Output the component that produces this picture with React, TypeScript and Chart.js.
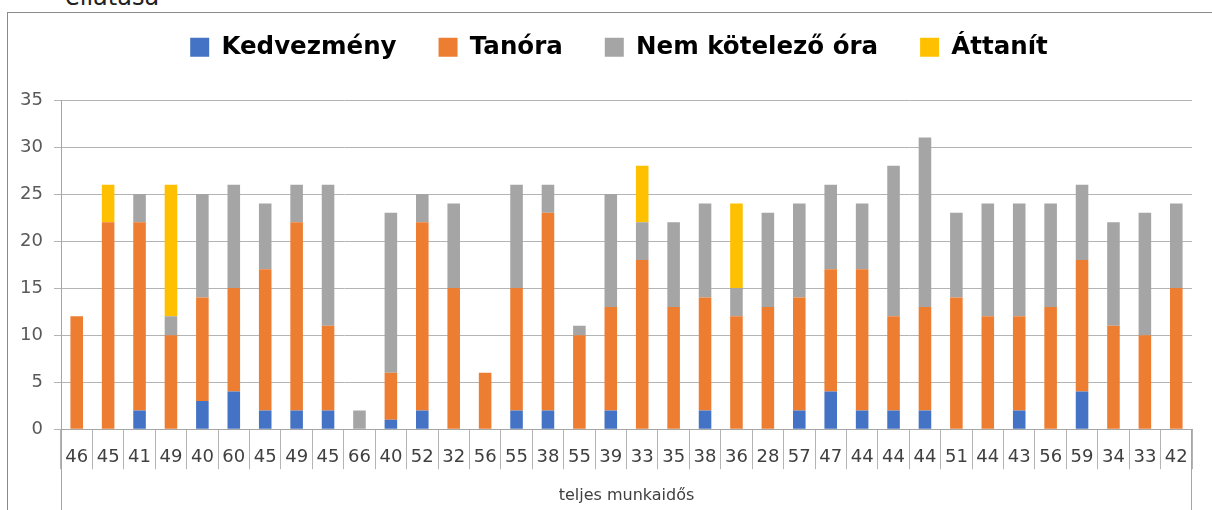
import React, { useEffect, useRef } from "react";
import { Chart, registerables } from "chart.js";

Chart.register(...registerables);

const categories = ["46","45","41","49","40","60","45","49","45","66","40","52","32","56","55","38","55","39","33","35","38","36","28","57","47","44","44","44","51","44","43","56","59","34","33","42"];
const kedvezmeny = [0,0,2,0,3,4,2,2,2,0,1,2,0,0,2,2,0,2,0,0,2,0,0,2,4,2,2,2,0,0,2,0,4,0,0,0];
const tanora = [12,22,20,10,11,11,15,20,9,0,5,20,15,6,13,21,10,11,18,13,12,12,13,12,13,15,10,11,14,12,10,13,14,11,10,15];
const nemKotelezo = [0,0,3,2,11,11,7,4,15,2,17,3,9,0,11,3,1,12,4,9,10,3,10,10,9,7,16,18,9,12,12,11,8,11,13,9];
const attanit = [0,4,0,14,0,0,0,0,0,0,0,0,0,0,0,0,0,0,6,0,0,9,0,0,0,0,0,0,0,0,0,0,0,0,0,0];
const seriesNames = ["Kedvezmény", "Tanóra", "Nem kötelező óra", "Áttanít"];
const seriesColors = ["#4472C4", "#ED7D31", "#A5A5A5", "#FFC000"];
const groupLabel = "teljes munkaidős";
const yTicks = [0, 5, 10, 15, 20, 25, 30, 35];

const CANVAS_W = 1222;
const CANVAS_H = 512;

export default function App() {
  const ref = useRef<HTMLCanvasElement | null>(null);

  useEffect(() => {
    if (!ref.current) return;
    const legendFit = {
      id: "legendFit",
      beforeInit(chart: any) {
        const orig = chart.legend.fit;
        chart.legend.fit = function () {
          orig.bind(chart.legend)();
          this.height = 107;
        };
      },
    };
    const edgeLines = {
      id: "edgeLines",
      afterDraw(chart: any) {
        const { ctx, chartArea } = chart;
        ctx.save();
        ctx.strokeStyle = "#a6a6a6";
        ctx.lineWidth = 1;
        ctx.beginPath();
        const l = Math.round(chartArea.left) + 0.5;
        const r = Math.round(chartArea.right) - 0.5;
        ctx.moveTo(l, chartArea.top);
        ctx.lineTo(l, chart.height);
        ctx.moveTo(r, chartArea.bottom);
        ctx.lineTo(r, chart.height);
        ctx.stroke();
        ctx.restore();
      },
    };
    const data = [kedvezmeny, tanora, nemKotelezo, attanit];
    const chart = new Chart(ref.current, {
      type: "bar",
      data: {
        labels: categories,
        datasets: data.map((d, i) => ({
          label: seriesNames[i],
          data: d,
          backgroundColor: seriesColors[i],
          borderWidth: 0,
          categoryPercentage: 1,
          barPercentage: 0.4,
          stack: "s",
          yAxisID: "y",
        })),
      },
      options: {
        responsive: false,
        animation: false,
        devicePixelRatio: 1,
        layout: { padding: { top: -20, right: 0, left: 0, bottom: 20 } },
        plugins: {
          tooltip: { enabled: false },
          legend: {
            position: "top",
            labels: {
              boxWidth: 19,
              boxHeight: 19,
              padding: 42,
              color: "#000",
              font: { family: "DejaVu Sans", size: 24.5, weight: "bold" },
            },
          },
        },
        scales: {
          x: {
            stacked: true,
            offset: true,
            grid: {
              display: true,
              drawOnChartArea: false,
              drawTicks: true,
              tickLength: 40,
              offset: true,
              color: "#b4b4b4",
            },
            border: { display: true, color: "#a6a6a6" },
            ticks: {
              color: "#404040",
              font: { family: "DejaVu Sans", size: 18 },
              padding: -23,
              maxRotation: 0,
              autoSkip: false,
            },
            title: {
              display: true,
              text: groupLabel,
              color: "#404040",
              font: { family: "DejaVu Sans", size: 16 },
              padding: { top: 41, bottom: 0 },
            },
          },
          y: {
            stacked: true,
            min: 0,
            max: 35,
            afterFit(scale: any) {
              scale.width = 53;
            },
            afterBuildTicks(scale: any) {
              scale.ticks = yTicks.map((v) => ({ value: v }));
            },
            grid: { color: "#b4b4b4", tickLength: 7 },
            border: { display: true, color: "#a6a6a6" },
            ticks: {
              color: "#595959",
              font: { family: "DejaVu Sans", size: 18 },
              padding: 11,
            },
          },
          yr: {
            position: "right",
            min: 0,
            max: 35,
            afterFit(scale: any) {
              scale.width = 38;
            },
            grid: { display: false, drawTicks: false },
            border: { display: false },
            ticks: { display: false },
          },
        },
      },
      plugins: [legendFit, edgeLines],
    } as any);
    return () => chart.destroy();
  }, []);

  return (
    <div style={{ position: "fixed", left: 0, top: 0, width: 1212, height: 510, overflow: "hidden", background: "#fff" }}>
      <div style={{ position: "absolute", left: 65, top: -15, fontFamily: "DejaVu Sans", fontSize: 24, lineHeight: "24px", color: "#222", whiteSpace: "nowrap" }}>
        ellátása
      </div>
      <div style={{ position: "absolute", left: 7, top: 12, width: 1205, height: 498, borderTop: "1px solid #8a8a8a", borderLeft: "1px solid #8a8a8a" }}>
        <canvas ref={ref} width={CANVAS_W} height={CANVAS_H} style={{ position: "absolute", left: 0, top: 0, width: CANVAS_W, height: CANVAS_H }} />
      </div>
    </div>
  );
}
